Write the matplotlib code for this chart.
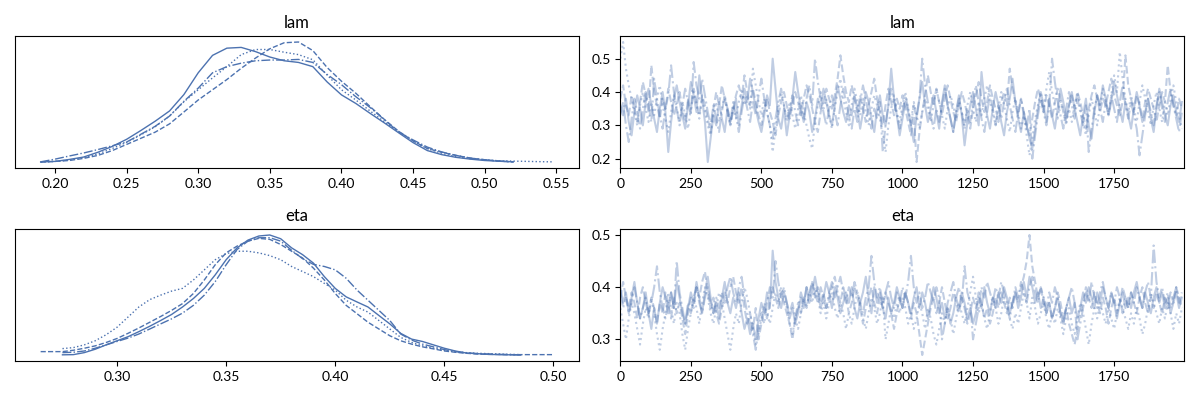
import numpy as np
import matplotlib
matplotlib.use("Agg")
import matplotlib.pyplot as plt

plt.rcParams['font.family'] = ['Lato', 'DejaVu Sans']

COLOR = "#4c72b0"
VAR_NAMES = ["lam", "eta"]
LINESTYLES = ["-", "--", ":", "-."]

# ---------------- KDE curves ----------------
LAM_X = [0.19, 0.20, 0.21, 0.22, 0.23, 0.24, 0.25, 0.26, 0.27, 0.28,
         0.29, 0.30, 0.31, 0.32, 0.33, 0.34, 0.35, 0.36, 0.37, 0.38,
         0.39, 0.40, 0.41, 0.42, 0.43, 0.44, 0.45, 0.46, 0.47, 0.48,
         0.49, 0.50, 0.51, 0.52]
LAM_X_DOT = LAM_X + [0.53, 0.54, 0.548]

lam_kde_c0 = [0.01, 0.05, 0.18, 0.34, 0.66, 1.05, 1.52, 2.11, 2.73, 3.41,
              4.50, 5.95, 7.11, 7.59, 7.64, 7.36, 7.00, 6.75, 6.64, 6.36,
              5.34, 4.48, 3.91, 3.25, 2.61, 1.95, 1.30, 0.77, 0.50, 0.32,
              0.20, 0.11, 0.06, 0.02]
lam_kde_c1 = [0.01, 0.05, 0.11, 0.25, 0.45, 0.77, 1.18, 1.59, 2.00, 2.55,
              3.34, 4.14, 4.82, 5.50, 6.25, 6.93, 7.55, 7.95, 8.00, 7.43,
              6.30, 5.39, 4.59, 3.70, 2.84, 2.05, 1.41, 0.91, 0.66, 0.45,
              0.27, 0.16, 0.07, 0.02]
lam_kde_c2 = [0.01, 0.05, 0.14, 0.30, 0.55, 0.91, 1.32, 1.82, 2.36, 3.07,
              4.02, 4.82, 5.61, 6.36, 7.16, 7.50, 7.50, 7.32, 7.16, 6.82,
              5.80, 4.82, 4.14, 3.41, 2.68, 2.05, 1.41, 0.89, 0.59, 0.36,
              0.23, 0.16, 0.09, 0.07, 0.05, 0.03, 0.02]
lam_kde_c3 = [0.02, 0.20, 0.41, 0.61, 0.84, 1.09, 1.34, 1.86, 2.39, 3.07,
              4.05, 4.93, 5.95, 6.36, 6.59, 6.75, 6.80, 6.80, 6.84, 6.64,
              5.84, 5.16, 4.36, 3.64, 2.82, 2.00, 1.48, 1.00, 0.68, 0.45,
              0.27, 0.16, 0.07, 0.02]

ETA_X = [0.275, 0.280, 0.285, 0.290, 0.295, 0.300, 0.305, 0.310, 0.315, 0.320,
         0.325, 0.330, 0.335, 0.340, 0.345, 0.350, 0.355, 0.360, 0.365, 0.370,
         0.375, 0.380, 0.385, 0.390, 0.395, 0.400, 0.405, 0.410, 0.415, 0.420,
         0.425, 0.430, 0.435, 0.440, 0.445, 0.450, 0.455, 0.460, 0.465, 0.470,
         0.475, 0.480, 0.485]
ETA_X_DASH = [0.265, 0.270] + ETA_X + [0.490, 0.495, 0.500]

eta_kde_c0 = [0.02, 0.04, 0.26, 0.63, 1.11, 1.56, 2.00, 2.56, 3.15, 3.78,
              4.44, 5.26, 6.19, 7.30, 8.78, 10.44, 11.74, 12.59, 13.04, 13.15,
              12.74, 11.74, 11.00, 10.07, 8.59, 7.30, 6.37, 5.81, 5.26, 4.33,
              3.41, 2.37, 1.74, 1.48, 1.11, 0.74, 0.44, 0.22, 0.15, 0.07,
              0.04, 0.02, 0.00]
eta_kde_c1 = [0.37, 0.37, 0.37, 0.52, 0.74, 1.00, 1.37, 1.81, 2.37, 2.96,
              3.59, 4.22, 4.89, 5.63, 6.74, 8.22, 9.89, 11.19, 11.93, 12.48,
              12.78, 12.67, 12.11, 11.37, 10.63, 9.52, 8.22, 6.74, 5.44, 4.52,
              3.59, 2.85, 2.11, 1.56, 1.19, 0.89, 0.67, 0.44, 0.30, 0.19,
              0.11, 0.07, 0.06, 0.04, 0.04, 0.04, 0.04, 0.04]
eta_kde_c2 = [0.70, 0.81, 1.11, 1.56, 2.22, 3.04, 4.15, 5.26, 6.07, 6.56,
              7.00, 7.30, 8.22, 9.33, 10.44, 11.11, 11.37, 11.37, 11.19, 10.89,
              10.44, 9.70, 9.15, 8.59, 7.85, 7.11, 6.00, 5.26, 4.70, 3.78,
              2.85, 1.93, 1.37, 1.00, 0.74, 0.52, 0.37, 0.26, 0.19, 0.15,
              0.11, 0.07, 0.04]
eta_kde_c3 = [0.26, 0.30, 0.44, 0.74, 1.11, 1.48, 1.85, 2.30, 2.85, 3.41,
              3.96, 4.59, 5.44, 6.56, 8.04, 9.89, 11.56, 12.48, 12.85, 12.85,
              12.48, 11.48, 10.56, 9.93, 9.70, 9.33, 8.41, 7.11, 6.00, 4.89,
              3.78, 2.30, 1.63, 1.19, 0.89, 0.59, 0.37, 0.22, 0.15, 0.11,
              0.07, 0.04, 0.02]

# ---------------- traces (every 10th draw) ----------------
DRAW_STEP = 10

lam_trace_c0 = [
    0.36, 0.33, 0.38, 0.31, 0.27, 0.34, 0.39, 0.35, 0.30, 0.37, 0.41, 0.36, 0.32, 0.28, 0.35, 0.40, 0.34, 0.22, 0.31, 0.38,
    0.42, 0.37, 0.33, 0.29, 0.36, 0.43, 0.39, 0.34, 0.45, 0.38, 0.31, 0.19, 0.26, 0.33, 0.30, 0.37, 0.32, 0.28, 0.35, 0.31,
    0.34, 0.38, 0.30, 0.36, 0.41, 0.37, 0.44, 0.40, 0.35, 0.31, 0.28, 0.33, 0.39, 0.36, 0.50, 0.41, 0.32, 0.29, 0.35, 0.27,
    0.33, 0.38, 0.46, 0.40, 0.35, 0.31, 0.37, 0.34, 0.28, 0.32, 0.38, 0.35, 0.41, 0.37, 0.33, 0.30, 0.36, 0.42, 0.38, 0.34,
    0.31, 0.36, 0.33, 0.39, 0.35, 0.29, 0.34, 0.40, 0.37, 0.32, 0.28, 0.35, 0.39, 0.33, 0.30, 0.36, 0.47, 0.38, 0.33, 0.27,
    0.32, 0.37, 0.34, 0.30, 0.25, 0.33, 0.38, 0.43, 0.36, 0.31, 0.35, 0.39, 0.34, 0.29, 0.37, 0.42, 0.36, 0.32, 0.28, 0.34,
    0.39, 0.33, 0.24, 0.31, 0.36, 0.40, 0.35, 0.30, 0.46, 0.38, 0.33, 0.29, 0.35, 0.40, 0.36, 0.31, 0.27, 0.34, 0.38, 0.44,
    0.37, 0.32, 0.28, 0.34, 0.30, 0.26, 0.23, 0.29, 0.35, 0.40, 0.36, 0.31, 0.38, 0.33, 0.29, 0.35, 0.41, 0.37, 0.32, 0.36,
    0.40, 0.35, 0.31, 0.27, 0.33, 0.38, 0.30, 0.26, 0.34, 0.39, 0.36, 0.42, 0.38, 0.33, 0.37, 0.43, 0.39, 0.35, 0.31, 0.37,
    0.33, 0.29, 0.35, 0.40, 0.36, 0.31, 0.34, 0.38, 0.32, 0.28, 0.35, 0.41, 0.37, 0.33, 0.30, 0.36, 0.39, 0.34, 0.31, 0.37]
lam_trace_c1 = [
    0.38, 0.42, 0.36, 0.33, 0.39, 0.35, 0.31, 0.37, 0.43, 0.39, 0.34, 0.48, 0.40, 0.36, 0.32, 0.38, 0.35, 0.41, 0.37, 0.33,
    0.36, 0.40, 0.35, 0.31, 0.38, 0.34, 0.41, 0.37, 0.33, 0.39, 0.36, 0.32, 0.28, 0.35, 0.40, 0.36, 0.42, 0.38, 0.34, 0.30,
    0.35, 0.39, 0.42, 0.38, 0.45, 0.40, 0.36, 0.41, 0.37, 0.33, 0.30, 0.35, 0.38, 0.34, 0.31, 0.27, 0.33, 0.37, 0.40, 0.36,
    0.32, 0.36, 0.40, 0.37, 0.33, 0.38, 0.42, 0.39, 0.35, 0.31, 0.28, 0.34, 0.37, 0.41, 0.38, 0.35, 0.39, 0.44, 0.51, 0.45,
    0.40, 0.37, 0.42, 0.38, 0.34, 0.39, 0.35, 0.31, 0.36, 0.40, 0.44, 0.38, 0.34, 0.30, 0.36, 0.41, 0.37, 0.33, 0.38, 0.35,
    0.39, 0.35, 0.31, 0.27, 0.33, 0.19, 0.28, 0.34, 0.39, 0.45, 0.40, 0.36, 0.41, 0.37, 0.33, 0.38, 0.42, 0.38, 0.34, 0.31,
    0.36, 0.40, 0.37, 0.33, 0.29, 0.35, 0.39, 0.43, 0.38, 0.34, 0.37, 0.42, 0.38, 0.35, 0.31, 0.37, 0.40, 0.36, 0.47, 0.41,
    0.37, 0.33, 0.38, 0.34, 0.30, 0.27, 0.32, 0.37, 0.41, 0.38, 0.34, 0.39, 0.36, 0.32, 0.37, 0.41, 0.38, 0.34, 0.31, 0.36,
    0.39, 0.35, 0.40, 0.37, 0.33, 0.29, 0.35, 0.39, 0.42, 0.38, 0.34, 0.38, 0.36, 0.40, 0.44, 0.39, 0.36, 0.33, 0.37, 0.51,
    0.42, 0.38, 0.34, 0.39, 0.36, 0.32, 0.37, 0.41, 0.38, 0.35, 0.31, 0.36, 0.40, 0.37, 0.48, 0.40, 0.36, 0.33, 0.38, 0.35]
lam_trace_c2 = [
    0.50, 0.55, 0.47, 0.42, 0.38, 0.34, 0.30, 0.36, 0.40, 0.35, 0.31, 0.37, 0.33, 0.38, 0.42, 0.36, 0.32, 0.28, 0.34, 0.39,
    0.35, 0.31, 0.37, 0.33, 0.29, 0.35, 0.40, 0.36, 0.32, 0.38, 0.34, 0.30, 0.27, 0.33, 0.37, 0.31, 0.35, 0.39, 0.34, 0.30,
    0.36, 0.32, 0.37, 0.41, 0.36, 0.39, 0.35, 0.47, 0.42, 0.37, 0.33, 0.38, 0.34, 0.30, 0.22, 0.29, 0.35, 0.40, 0.36, 0.32,
    0.37, 0.33, 0.29, 0.35, 0.39, 0.34, 0.30, 0.26, 0.23, 0.31, 0.36, 0.40, 0.35, 0.38, 0.33, 0.29, 0.35, 0.40, 0.44, 0.38,
    0.34, 0.30, 0.36, 0.41, 0.37, 0.33, 0.38, 0.34, 0.30, 0.35, 0.39, 0.36, 0.32, 0.28, 0.22, 0.30, 0.35, 0.39, 0.34, 0.31,
    0.36, 0.40, 0.35, 0.31, 0.37, 0.33, 0.29, 0.34, 0.38, 0.35, 0.31, 0.36, 0.41, 0.37, 0.33, 0.29, 0.35, 0.39, 0.36, 0.32,
    0.37, 0.34, 0.30, 0.36, 0.40, 0.35, 0.31, 0.37, 0.33, 0.38, 0.42, 0.37, 0.34, 0.30, 0.35, 0.40, 0.36, 0.32, 0.28, 0.34,
    0.38, 0.34, 0.29, 0.33, 0.27, 0.21, 0.26, 0.32, 0.36, 0.40, 0.35, 0.41, 0.46, 0.40, 0.36, 0.32, 0.38, 0.34, 0.30, 0.35,
    0.31, 0.36, 0.40, 0.35, 0.31, 0.27, 0.33, 0.38, 0.34, 0.30, 0.36, 0.41, 0.37, 0.33, 0.39, 0.45, 0.40, 0.52, 0.44, 0.38,
    0.34, 0.39, 0.35, 0.31, 0.37, 0.42, 0.38, 0.34, 0.30, 0.36, 0.40, 0.35, 0.31, 0.37, 0.33, 0.38, 0.42, 0.37, 0.33, 0.29]
lam_trace_c3 = [
    0.33, 0.37, 0.30, 0.25, 0.32, 0.38, 0.34, 0.29, 0.35, 0.40, 0.36, 0.31, 0.44, 0.38, 0.33, 0.29, 0.35, 0.39, 0.48, 0.40,
    0.35, 0.30, 0.36, 0.41, 0.37, 0.33, 0.49, 0.42, 0.38, 0.44, 0.39, 0.34, 0.30, 0.36, 0.32, 0.28, 0.34, 0.39, 0.35, 0.31,
    0.37, 0.33, 0.28, 0.34, 0.39, 0.35, 0.31, 0.37, 0.33, 0.39, 0.44, 0.38, 0.34, 0.30, 0.26, 0.32, 0.37, 0.41, 0.36, 0.31,
    0.35, 0.39, 0.34, 0.30, 0.36, 0.32, 0.38, 0.42, 0.36, 0.50, 0.43, 0.38, 0.34, 0.30, 0.35, 0.39, 0.34, 0.30, 0.36, 0.41,
    0.37, 0.33, 0.29, 0.35, 0.31, 0.37, 0.42, 0.38, 0.33, 0.29, 0.35, 0.32, 0.37, 0.22, 0.30, 0.36, 0.41, 0.37, 0.33, 0.29,
    0.34, 0.39, 0.35, 0.30, 0.36, 0.32, 0.38, 0.50, 0.42, 0.37, 0.33, 0.29, 0.35, 0.31, 0.36, 0.41, 0.36, 0.32, 0.28, 0.34,
    0.38, 0.34, 0.29, 0.35, 0.31, 0.37, 0.42, 0.37, 0.32, 0.28, 0.34, 0.39, 0.35, 0.30, 0.36, 0.32, 0.37, 0.41, 0.36, 0.32,
    0.28, 0.34, 0.38, 0.33, 0.29, 0.35, 0.20, 0.27, 0.33, 0.38, 0.34, 0.30, 0.36, 0.50, 0.43, 0.37, 0.33, 0.29, 0.35, 0.40,
    0.36, 0.32, 0.38, 0.34, 0.30, 0.36, 0.22, 0.29, 0.35, 0.39, 0.35, 0.31, 0.37, 0.33, 0.39, 0.35, 0.31, 0.37, 0.42, 0.36,
    0.32, 0.37, 0.33, 0.29, 0.21, 0.27, 0.33, 0.38, 0.34, 0.30, 0.36, 0.40, 0.35, 0.31, 0.37, 0.41, 0.36, 0.32, 0.28, 0.34]

eta_trace_c0 = [
    0.40, 0.37, 0.39, 0.35, 0.38, 0.41, 0.37, 0.34, 0.36, 0.39, 0.35, 0.32, 0.36, 0.33, 0.37, 0.40, 0.38, 0.35, 0.39, 0.36,
    0.41, 0.38, 0.35, 0.33, 0.36, 0.39, 0.37, 0.41, 0.38, 0.35, 0.39, 0.42, 0.38, 0.35, 0.37, 0.34, 0.38, 0.41, 0.37, 0.35,
    0.38, 0.36, 0.39, 0.35, 0.32, 0.34, 0.31, 0.33, 0.30, 0.34, 0.37, 0.35, 0.39, 0.36, 0.47, 0.41, 0.38, 0.36, 0.39, 0.37,
    0.34, 0.36, 0.33, 0.35, 0.38, 0.36, 0.40, 0.37, 0.39, 0.42, 0.39, 0.36, 0.38, 0.41, 0.39, 0.36, 0.40, 0.38, 0.35, 0.37,
    0.39, 0.37, 0.40, 0.36, 0.34, 0.37, 0.39, 0.42, 0.38, 0.35, 0.40, 0.37, 0.39, 0.36, 0.34, 0.38, 0.35, 0.37, 0.40, 0.38,
    0.36, 0.39, 0.37, 0.35, 0.38, 0.40, 0.36, 0.39, 0.37, 0.34, 0.37, 0.40, 0.38, 0.35, 0.37, 0.34, 0.36, 0.33, 0.35, 0.38,
    0.36, 0.39, 0.37, 0.34, 0.36, 0.33, 0.35, 0.38, 0.36, 0.40, 0.37, 0.35, 0.38, 0.36, 0.39, 0.37, 0.40, 0.38, 0.35, 0.37,
    0.39, 0.36, 0.38, 0.41, 0.38, 0.42, 0.40, 0.37, 0.39, 0.36, 0.38, 0.35, 0.37, 0.34, 0.36, 0.38, 0.35, 0.33, 0.36, 0.38,
    0.35, 0.37, 0.34, 0.36, 0.39, 0.37, 0.40, 0.38, 0.36, 0.39, 0.37, 0.40, 0.38, 0.36, 0.39, 0.37, 0.34, 0.37, 0.39, 0.36,
    0.38, 0.36, 0.39, 0.41, 0.38, 0.36, 0.39, 0.37, 0.35, 0.38, 0.40, 0.37, 0.39, 0.36, 0.38, 0.35, 0.37, 0.39, 0.36, 0.38]
eta_trace_c1 = [
    0.38, 0.41, 0.38, 0.36, 0.39, 0.37, 0.34, 0.38, 0.40, 0.37, 0.35, 0.38, 0.36, 0.33, 0.37, 0.35, 0.39, 0.37, 0.34, 0.38,
    0.35, 0.37, 0.34, 0.31, 0.35, 0.38, 0.36, 0.40, 0.38, 0.41, 0.43, 0.39, 0.36, 0.38, 0.35, 0.33, 0.36, 0.39, 0.37, 0.40,
    0.42, 0.39, 0.37, 0.40, 0.36, 0.33, 0.35, 0.32, 0.36, 0.30, 0.33, 0.36, 0.34, 0.37, 0.40, 0.38, 0.36, 0.39, 0.37, 0.35,
    0.33, 0.30, 0.34, 0.37, 0.35, 0.38, 0.36, 0.39, 0.41, 0.38, 0.40, 0.37, 0.39, 0.36, 0.38, 0.40, 0.42, 0.39, 0.37, 0.40,
    0.38, 0.35, 0.37, 0.40, 0.38, 0.36, 0.33, 0.36, 0.38, 0.40, 0.37, 0.35, 0.38, 0.36, 0.39, 0.37, 0.35, 0.32, 0.35, 0.38,
    0.36, 0.39, 0.37, 0.34, 0.37, 0.35, 0.31, 0.27, 0.30, 0.33, 0.36, 0.38, 0.35, 0.37, 0.40, 0.37, 0.34, 0.36, 0.39, 0.37,
    0.35, 0.38, 0.36, 0.33, 0.35, 0.38, 0.36, 0.39, 0.37, 0.34, 0.36, 0.33, 0.35, 0.38, 0.36, 0.39, 0.37, 0.35, 0.38, 0.36,
    0.39, 0.37, 0.40, 0.42, 0.45, 0.50, 0.44, 0.41, 0.38, 0.40, 0.37, 0.35, 0.37, 0.34, 0.36, 0.39, 0.37, 0.34, 0.36, 0.33,
    0.31, 0.29, 0.32, 0.35, 0.37, 0.40, 0.38, 0.36, 0.39, 0.37, 0.35, 0.38, 0.36, 0.33, 0.36, 0.38, 0.35, 0.37, 0.40, 0.38,
    0.36, 0.39, 0.37, 0.35, 0.38, 0.40, 0.37, 0.35, 0.38, 0.36, 0.39, 0.37, 0.35, 0.38, 0.36, 0.39, 0.37, 0.40, 0.38, 0.36]
eta_trace_c2 = [
    0.36, 0.33, 0.30, 0.34, 0.37, 0.35, 0.32, 0.29, 0.33, 0.36, 0.34, 0.38, 0.35, 0.31, 0.28, 0.32, 0.35, 0.39, 0.36, 0.33,
    0.37, 0.35, 0.31, 0.28, 0.32, 0.35, 0.38, 0.36, 0.33, 0.37, 0.40, 0.38, 0.35, 0.33, 0.36, 0.39, 0.37, 0.34, 0.31, 0.28,
    0.32, 0.35, 0.33, 0.37, 0.40, 0.38, 0.35, 0.32, 0.29, 0.31, 0.34, 0.37, 0.35, 0.33, 0.36, 0.39, 0.37, 0.40, 0.38, 0.36,
    0.33, 0.31, 0.34, 0.32, 0.35, 0.38, 0.36, 0.39, 0.37, 0.40, 0.38, 0.35, 0.37, 0.34, 0.37, 0.39, 0.36, 0.34, 0.37, 0.35,
    0.32, 0.35, 0.33, 0.36, 0.39, 0.37, 0.34, 0.32, 0.35, 0.38, 0.36, 0.33, 0.35, 0.38, 0.30, 0.33, 0.36, 0.34, 0.37, 0.35,
    0.38, 0.36, 0.33, 0.35, 0.32, 0.34, 0.37, 0.35, 0.32, 0.36, 0.34, 0.31, 0.29, 0.32, 0.35, 0.33, 0.36, 0.34, 0.31, 0.34,
    0.37, 0.35, 0.33, 0.36, 0.39, 0.42, 0.38, 0.35, 0.37, 0.34, 0.32, 0.35, 0.38, 0.36, 0.33, 0.35, 0.38, 0.36, 0.34, 0.32,
    0.35, 0.33, 0.36, 0.39, 0.37, 0.34, 0.38, 0.36, 0.33, 0.35, 0.37, 0.34, 0.32, 0.35, 0.33, 0.36, 0.34, 0.31, 0.34, 0.36,
    0.33, 0.31, 0.34, 0.37, 0.35, 0.32, 0.29, 0.33, 0.36, 0.34, 0.37, 0.35, 0.33, 0.36, 0.34, 0.32, 0.35, 0.38, 0.36, 0.34,
    0.32, 0.35, 0.33, 0.36, 0.34, 0.31, 0.33, 0.36, 0.39, 0.37, 0.35, 0.33, 0.36, 0.34, 0.37, 0.35, 0.32, 0.35, 0.33, 0.36]
eta_trace_c3 = [
    0.39, 0.36, 0.38, 0.35, 0.37, 0.40, 0.37, 0.34, 0.36, 0.38, 0.35, 0.37, 0.40, 0.44, 0.39, 0.36, 0.34, 0.37, 0.39, 0.36,
    0.45, 0.39, 0.36, 0.33, 0.37, 0.35, 0.38, 0.40, 0.37, 0.35, 0.38, 0.40, 0.37, 0.35, 0.38, 0.36, 0.39, 0.37, 0.40, 0.42,
    0.39, 0.37, 0.40, 0.42, 0.38, 0.35, 0.33, 0.31, 0.28, 0.32, 0.35, 0.33, 0.37, 0.40, 0.38, 0.45, 0.41, 0.38, 0.40, 0.37,
    0.35, 0.37, 0.34, 0.36, 0.39, 0.37, 0.40, 0.38, 0.41, 0.39, 0.37, 0.40, 0.38, 0.36, 0.39, 0.41, 0.38, 0.40, 0.42, 0.39,
    0.37, 0.40, 0.38, 0.41, 0.39, 0.37, 0.35, 0.38, 0.40, 0.46, 0.41, 0.38, 0.40, 0.37, 0.39, 0.41, 0.38, 0.36, 0.39, 0.37,
    0.40, 0.38, 0.41, 0.46, 0.40, 0.37, 0.39, 0.36, 0.38, 0.41, 0.39, 0.37, 0.40, 0.38, 0.30, 0.33, 0.37, 0.39, 0.41, 0.38,
    0.40, 0.37, 0.44, 0.39, 0.37, 0.30, 0.33, 0.36, 0.40, 0.38, 0.41, 0.39, 0.37, 0.40, 0.38, 0.41, 0.39, 0.37, 0.34, 0.37,
    0.40, 0.38, 0.41, 0.39, 0.37, 0.40, 0.42, 0.39, 0.37, 0.40, 0.38, 0.36, 0.39, 0.37, 0.40, 0.38, 0.35, 0.33, 0.36, 0.38,
    0.40, 0.37, 0.30, 0.33, 0.36, 0.39, 0.37, 0.41, 0.38, 0.36, 0.39, 0.41, 0.38, 0.36, 0.39, 0.37, 0.40, 0.38, 0.35, 0.38,
    0.36, 0.39, 0.37, 0.40, 0.38, 0.36, 0.39, 0.41, 0.38, 0.48, 0.41, 0.38, 0.40, 0.37, 0.39, 0.36, 0.38, 0.40, 0.37, 0.39]

N_DRAWS = 2000

kde_data = {
    "lam": [(LAM_X, lam_kde_c0), (LAM_X, lam_kde_c1), (LAM_X_DOT, lam_kde_c2), (LAM_X, lam_kde_c3)],
    "eta": [(ETA_X, eta_kde_c0), (ETA_X_DASH, eta_kde_c1), (ETA_X, eta_kde_c2), (ETA_X, eta_kde_c3)],
}
trace_data = {
    "lam": [lam_trace_c0, lam_trace_c1, lam_trace_c2, lam_trace_c3],
    "eta": [eta_trace_c0, eta_trace_c1, eta_trace_c2, eta_trace_c3],
}

fig, axes = plt.subplots(2, 2, figsize=(12, 4), dpi=100)
fig.subplots_adjust(left=0.0125, right=0.987, top=0.91, bottom=0.0975,
                    hspace=0.462, wspace=0.073)

for row, name in enumerate(VAR_NAMES):
    ax_k = axes[row, 0]
    ax_t = axes[row, 1]
    for (xs, ys), ls in zip(kde_data[name], LINESTYLES):
        ax_k.plot(xs, ys, color=COLOR, linestyle=ls, linewidth=1.0)
    ax_k.set_yticks([])
    ax_k.set_title(name, fontsize=12)

    for vals, ls in zip(trace_data[name], LINESTYLES):
        draws = np.arange(len(vals)) * DRAW_STEP
        ax_t.plot(draws, vals, color=COLOR, linestyle=ls, linewidth=1.5, alpha=0.35)
    ax_t.set_xlim(0, N_DRAWS - 1)
    ax_t.set_title(name, fontsize=12)

for ax in axes.flat:
    ax.tick_params(labelsize=10)

fig.savefig("out.png", dpi=100)
